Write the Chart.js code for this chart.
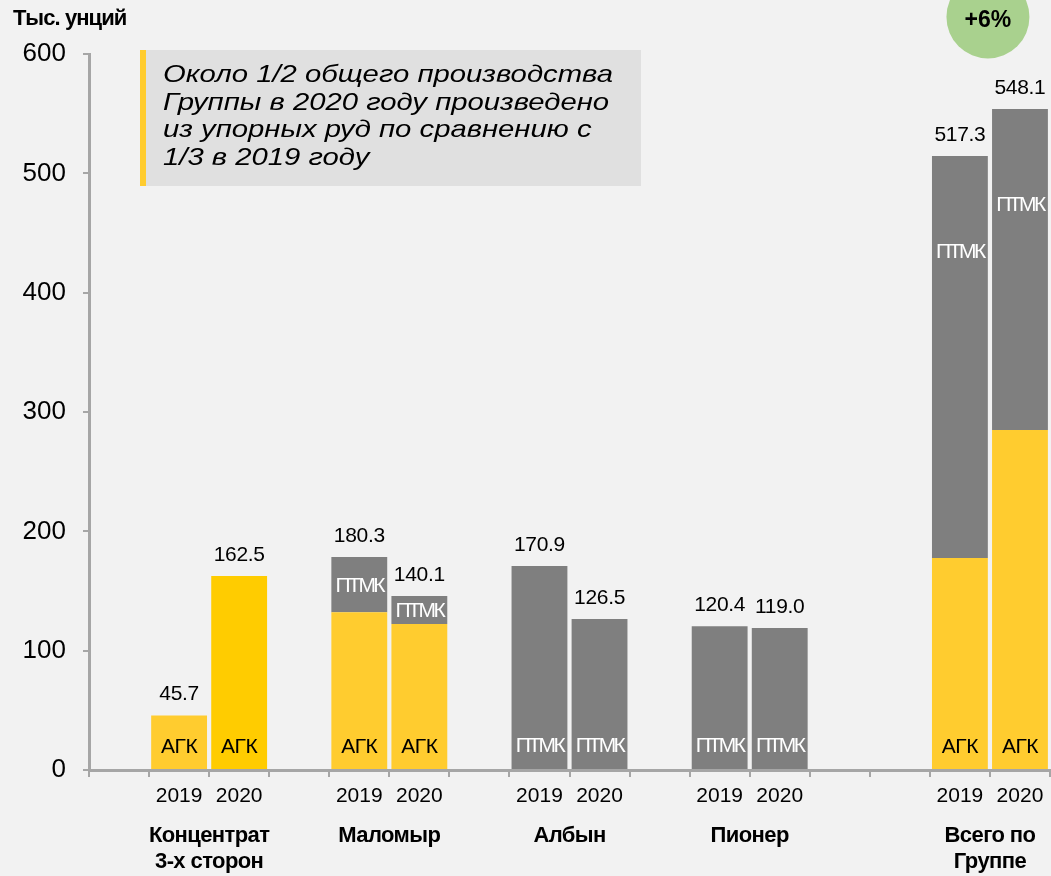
<!DOCTYPE html>
<html>
<head>
<meta charset="utf-8">
<script src="https://cdn.jsdelivr.net/npm/chart.js@4"></script>
<style>
  html, body { margin: 0; padding: 0; background: #f2f2f2; }
  #wrap { width: 1051px; height: 876px; }
</style>
</head>
<body>
<div id="wrap"><canvas id="chart"></canvas></div>
<script>
const groups = [['Концентрат', '3-х сторон'], ['Маломыр'], ['Албын'], ['Пионер'], ['Всего по', 'Группе']];
const years = ['2019', '2020'];
const agk2019 = [45.7, 132.1, 0, 0, 177.7];
const agk2020 = [162.5, 122.4, 0, 0, 284.9];
const ptmk2019 = [0, 46.4, 170.9, 120.4, 336.8];
const ptmk2020 = [0, 23.4, 126.5, 119.0, 269.0];
const total2019 = ['45.7', '180.3', '170.9', '120.4', '517.3'];
const total2020 = ['162.5', '140.1', '126.5', '119.0', '548.1'];
const yTicks = [0, 100, 200, 300, 400, 500, 600];
const note = ['Около 1/2 общего производства', 'Группы в 2020 году произведено', 'из упорных руд по сравнению с', '1/3 в 2019 году'];
const growth = '+6%';

const FONT = '"Liberation Sans", Arial, sans-serif';
const YELLOW = '#ffcc2f';
const GRAY = '#7f7f7f';
const AXIS = '#a6a6a6';

// empty slots before each group (spacing between pairs of bars)
const gapsBefore = [1, 1, 1, 1, 2];

// lay the bars out into category slots
const labels = [], agkData = [], ptmkData = [], agkColors = [], slots = [];
groups.forEach((g, gi) => {
  for (let k = 0; k < gapsBefore[gi]; k++) {
    labels.push(''); agkData.push(null); ptmkData.push(null); agkColors.push(YELLOW); slots.push(null);
  }
  years.forEach((yr, yi) => {
    labels.push(yr);
    agkData.push(yi === 0 ? agk2019[gi] : agk2020[gi]);
    ptmkData.push(yi === 0 ? ptmk2019[gi] : ptmk2020[gi]);
    agkColors.push(gi === 0 && yi === 1 ? '#ffcc00' : YELLOW);
    slots.push({ g: gi, y: yi, total: yi === 0 ? total2019[gi] : total2020[gi] });
  });
});

const decor = {
  id: 'decor',
  beforeDraw(chart) {
    const ctx = chart.ctx;
    ctx.save();
    ctx.fillStyle = '#f2f2f2';
    ctx.fillRect(0, 0, chart.width, chart.height);

    // note box
    ctx.fillStyle = '#e0e0e0';
    ctx.fillRect(140, 50, 501, 136);
    ctx.fillStyle = YELLOW;
    ctx.fillRect(140, 50, 6, 136);
    ctx.fillStyle = '#000';
    ctx.font = 'italic 24px ' + FONT;
    ctx.textAlign = 'left';
    ctx.textBaseline = 'alphabetic';
    const sx = 450 / ctx.measureText(note[0]).width;
    note.forEach((line, i) => {
      ctx.save();
      ctx.translate(163, 82 + i * 27.7);
      ctx.scale(sx, 1);
      ctx.fillText(line, 0, 0);
      ctx.restore();
    });

    // growth badge above the total group
    const xs = chart.scales.x;
    const last = labels.length - 1;
    const cx = (xs.getPixelForValue(last - 1) + xs.getPixelForValue(last)) / 2 - 2;
    ctx.fillStyle = '#a9d18e';
    ctx.beginPath();
    ctx.arc(cx, 17, 41.5, 0, Math.PI * 2);
    ctx.fill();
    ctx.fillStyle = '#000';
    ctx.font = 'bold 23px ' + FONT;
    ctx.textAlign = 'center';
    ctx.fillText(growth, cx, 27);

    // axis title
    ctx.textAlign = 'left';
    ctx.font = 'bold 22px ' + FONT;
    ctx.letterSpacing = '-0.9px';
    ctx.fillText('Тыс. унций', 13, 25);
    ctx.restore();
  },
  afterDatasetsDraw(chart) {
    const ctx = chart.ctx;
    const xs = chart.scales.x, ys = chart.scales.y;
    const base = ys.getPixelForValue(0);
    const barsA = chart.getDatasetMeta(0).data;
    const barsP = chart.getDatasetMeta(1).data;
    ctx.save();
    ctx.textAlign = 'center';
    ctx.textBaseline = 'alphabetic';
    slots.forEach((s, i) => {
      if (!s) return;
      const x = xs.getPixelForValue(i);
      const a = agkData[i] || 0, p = ptmkData[i] || 0;
      // total above bar
      ctx.fillStyle = '#000';
      ctx.font = '21px ' + FONT;
      ctx.letterSpacing = '-0.3px';
      ctx.fillText(s.total, x, ys.getPixelForValue(a + p) - 15);
      // year under axis
      ctx.font = '21px ' + FONT;
      ctx.letterSpacing = '0px';
      ctx.fillText(years[s.y], x, 802);
      // segment names
      if (a > 0) {
        ctx.fillStyle = '#000';
        ctx.font = '21px ' + FONT;
        ctx.letterSpacing = '-0.5px';
        ctx.fillText('АГК', x, base - 17);
      }
      if (p > 0) {
        ctx.fillStyle = '#fff';
        ctx.font = '21px ' + FONT;
        ctx.letterSpacing = '-2.5px';
        let yy;
        if (a > 0) {
          const top = barsP[i].y, bot = barsA[i].y;
          yy = Math.min((top + bot) / 2, top + 95) + 7;
        } else {
          yy = base - 18;
        }
        ctx.fillText('ПТМК', x, yy);
      }
      ctx.letterSpacing = '0px';
    });
    // group names
    ctx.fillStyle = '#000';
    ctx.font = 'bold 22px ' + FONT;
    ctx.letterSpacing = '-0.6px';
    groups.forEach((g, gi) => {
      const idx = slots.map((s, i) => (s && s.g === gi ? i : -1)).filter(i => i >= 0);
      const cx = (xs.getPixelForValue(idx[0]) + xs.getPixelForValue(idx[1])) / 2;
      g.forEach((line, li) => ctx.fillText(line, cx, 842 + li * 26));
    });
    ctx.restore();
  }
};

new Chart(document.getElementById('chart'), {
  type: 'bar',
  data: {
    labels: labels,
    datasets: [
      { label: 'АГК', data: agkData, backgroundColor: agkColors, borderWidth: 0, barPercentage: 0.93, categoryPercentage: 1 },
      { label: 'ПТМК', data: ptmkData, backgroundColor: GRAY, borderWidth: 0, barPercentage: 0.93, categoryPercentage: 1 }
    ]
  },
  options: {
    responsive: true,
    maintainAspectRatio: false,
    animation: false,
    layout: { padding: { top: 54, right: 1, left: 0, bottom: 0 } },
    plugins: { legend: { display: false }, tooltip: { enabled: false } },
    scales: {
      x: {
        stacked: true,
        offset: true,
        ticks: { display: false },
        grid: { offset: true, drawOnChartArea: false, drawTicks: true, tickLength: 7, color: AXIS, lineWidth: 2 },
        border: { color: AXIS, width: 3 },
        afterFit: s => { s.height = 106; }
      },
      y: {
        stacked: true,
        min: 0,
        max: 600,
        afterBuildTicks: s => { s.ticks = yTicks.map(v => ({ value: v })); },
        ticks: { padding: 17, color: '#000', font: { family: FONT, size: 26 } },
        grid: { drawOnChartArea: false, drawTicks: true, tickLength: 6, color: AXIS, lineWidth: 2 },
        border: { color: AXIS, width: 3 },
        afterFit: s => { s.width = 89; }
      }
    }
  },
  plugins: [decor]
});
</script>
</body>
</html>
